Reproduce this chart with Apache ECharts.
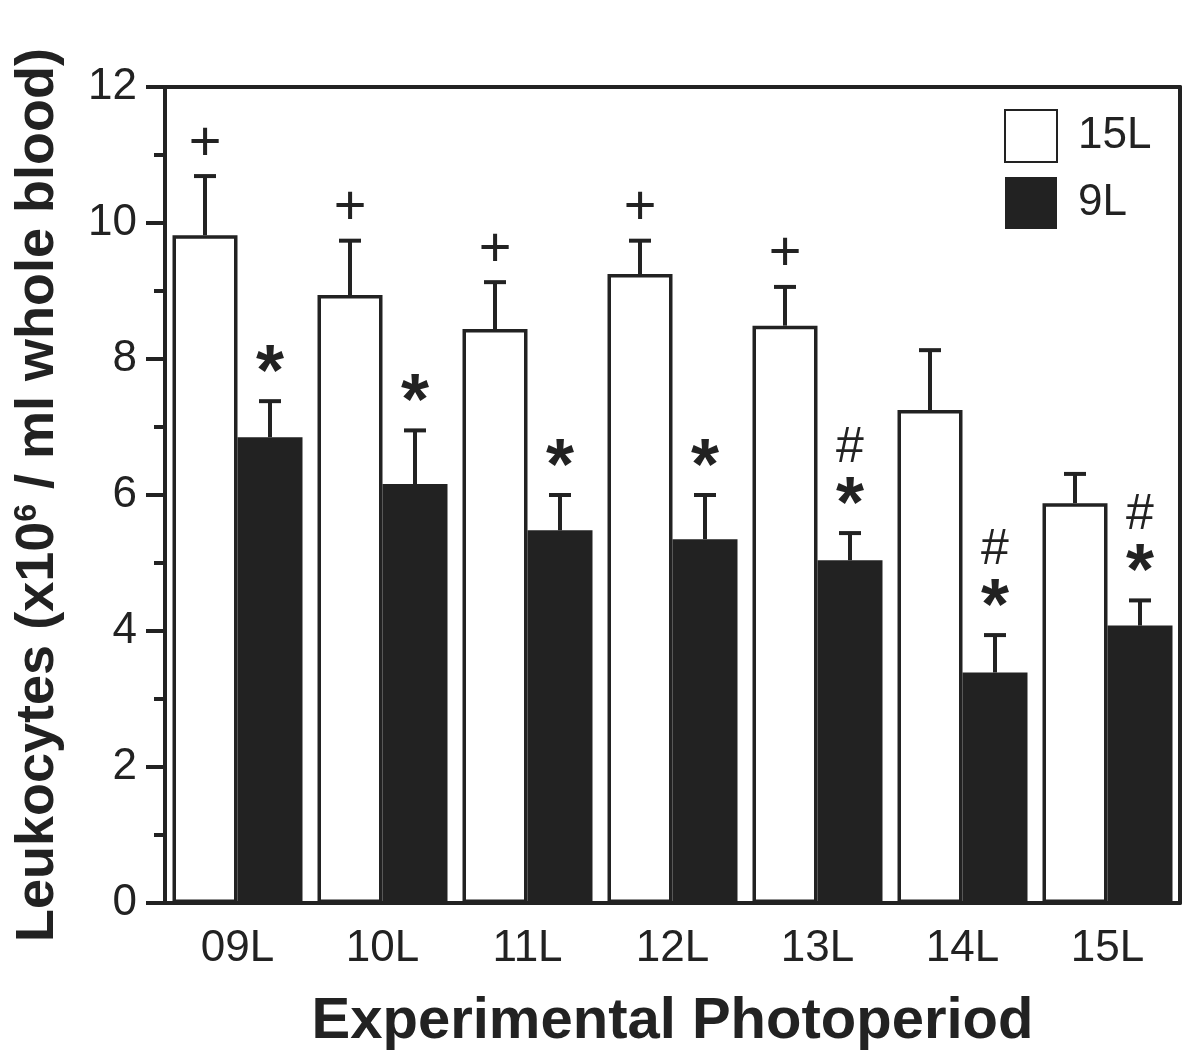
<!DOCTYPE html>
<html>
<head>
<meta charset="utf-8">
<script src="https://cdn.jsdelivr.net/npm/echarts@6/dist/echarts.min.js"></script>
<style>
  html, body { margin: 0; padding: 0; background: #fff; }
  #chart { width: 1182px; height: 1050px; }
</style>
</head>
<body>
<div id="chart"></div>
<script>
const categories = ['09L', '10L', '11L', '12L', '13L', '14L', '15L']
// 15L group (open bars)
const long15 = [9.82, 8.94, 8.44, 9.25, 8.49, 7.25, 5.88]
const long15Err = [0.87, 0.80, 0.69, 0.49, 0.57, 0.88, 0.43]
const long15Plus = [true, true, true, true, true, false, false]
// 9L group (filled bars)
const short9 = [6.85, 6.16, 5.48, 5.35, 5.04, 3.39, 4.08]
const short9Err = [0.53, 0.79, 0.52, 0.65, 0.40, 0.55, 0.37]
const short9Star = [true, true, true, true, true, true, true]
const short9Hash = [false, false, false, false, true, true, true]
const yTicks = [0, 2, 4, 6, 8, 10, 12]

const ink = '#222'
const font = '"Liberation Sans", Arial, Helvetica, sans-serif'
const barW = 65

const chart = echarts.init(document.getElementById('chart'))

// error bar + significance marks, shifted left/right of the category centre
const errSeries = (name, vals, errs, shift, marks) => ({
  type: 'custom',
  name: name + '-err',
  z: 5,
  silent: true,
  data: vals.map((v, i) => [i, v, errs[i]]),
  renderItem: (params, api) => {
    const i = api.value(0)
    const base = api.coord([i, api.value(1)])
    const top = api.coord([i, api.value(1) + api.value(2)])
    const x = base[0] + shift
    const children = [
      { type: 'line', shape: { x1: x, y1: base[1], x2: x, y2: top[1] }, style: { stroke: ink, lineWidth: 4 } },
      { type: 'line', shape: { x1: x - 11, y1: top[1], x2: x + 11, y2: top[1] }, style: { stroke: ink, lineWidth: 4 } },
    ]
    marks(i).forEach((m) => {
      children.push({
        type: 'text',
        style: {
          text: m.t, x: x, y: top[1] - m.dy, fill: ink,
          font: m.f, align: 'center', verticalAlign: 'middle',
        },
      })
    })
    return { type: 'group', children }
  },
})

chart.setOption({
  animation: false,
  grid: { left: 165, right: 2, top: 87, bottom: 147, containLabel: false, outerBoundsMode: 'none' },
  legend: {
    orient: 'vertical',
    left: 999,
    top: 104,
    itemWidth: 52,
    itemHeight: 52,
    itemGap: 14,
    icon: 'rect',
    textStyle: { fontSize: 44, color: ink, fontFamily: font, padding: [0, 0, 0, 16] },
    data: ['15L', '9L'],
  },
  xAxis: [
    {
      type: 'category',
      data: categories,
      name: 'Experimental Photoperiod',
      nameLocation: 'middle',
      nameGap: 90,
      nameTextStyle: { fontSize: 58, fontWeight: 'bold', color: ink, fontFamily: font },
      axisLine: { lineStyle: { color: ink, width: 4 } },
      axisTick: { alignWithLabel: true, length: 11, lineStyle: { color: ink, width: 4 } },
      axisLabel: { fontSize: 44, color: ink, fontFamily: font, margin: 24 },
    },
    {
      type: 'category',
      position: 'top',
      data: categories,
      axisLine: { onZero: false, lineStyle: { color: ink, width: 4 } },
      axisTick: { show: false },
      axisLabel: { show: false },
    },
  ],
  yAxis: [
    {
      type: 'value',
      min: yTicks[0],
      max: yTicks[yTicks.length - 1],
      interval: 2,
      name: 'Leukocytes (x10{sup|6} / ml whole blood)',
      nameLocation: 'middle',
      nameGap: 100,
      nameTextStyle: {
        fontSize: 54, fontWeight: 'bold', color: ink, fontFamily: font,
        rich: { sup: { fontSize: 32, fontWeight: 'bold', color: ink, fontFamily: font, verticalAlign: 'top', padding: [0, 0, 22, 0] } },
      },
      axisLine: { show: true, lineStyle: { color: ink, width: 4 } },
      axisTick: { show: true, length: 19, lineStyle: { color: ink, width: 4 } },
      minorTick: { show: true, splitNumber: 2, length: 11, lineStyle: { color: ink, width: 4 } },
      axisLabel: { fontSize: 44, color: ink, fontFamily: font, margin: 28 },
      splitLine: { show: false },
    },
    {
      type: 'value',
      position: 'right',
      min: 0,
      max: 12,
      axisLine: { show: true, onZero: false, lineStyle: { color: ink, width: 4 } },
      axisTick: { show: false },
      axisLabel: { show: false },
      splitLine: { show: false },
    },
  ],
  series: [
    {
      name: '15L',
      type: 'bar',
      barWidth: barW,
      barGap: '0%',
      data: long15,
      itemStyle: { color: '#fff', borderColor: ink, borderWidth: 3.5 },
    },
    {
      name: '9L',
      type: 'bar',
      barWidth: barW,
      barGap: '0%',
      data: short9,
      itemStyle: { color: ink, borderColor: ink, borderWidth: 0 },
    },
    errSeries('15L', long15, long15Err, -barW / 2, (i) =>
      long15Plus[i] ? [{ t: '+', dy: 32, f: '56px ' + font }] : []),
    errSeries('9L', short9, short9Err, barW / 2, (i) => {
      const m = []
      if (short9Star[i]) m.push({ t: '*', dy: 26, f: 'bold 72px ' + font })
      if (short9Hash[i]) m.push({ t: '#', dy: 85, f: '50px ' + font })
      return m
    }),
  ],
})
</script>
</body>
</html>
